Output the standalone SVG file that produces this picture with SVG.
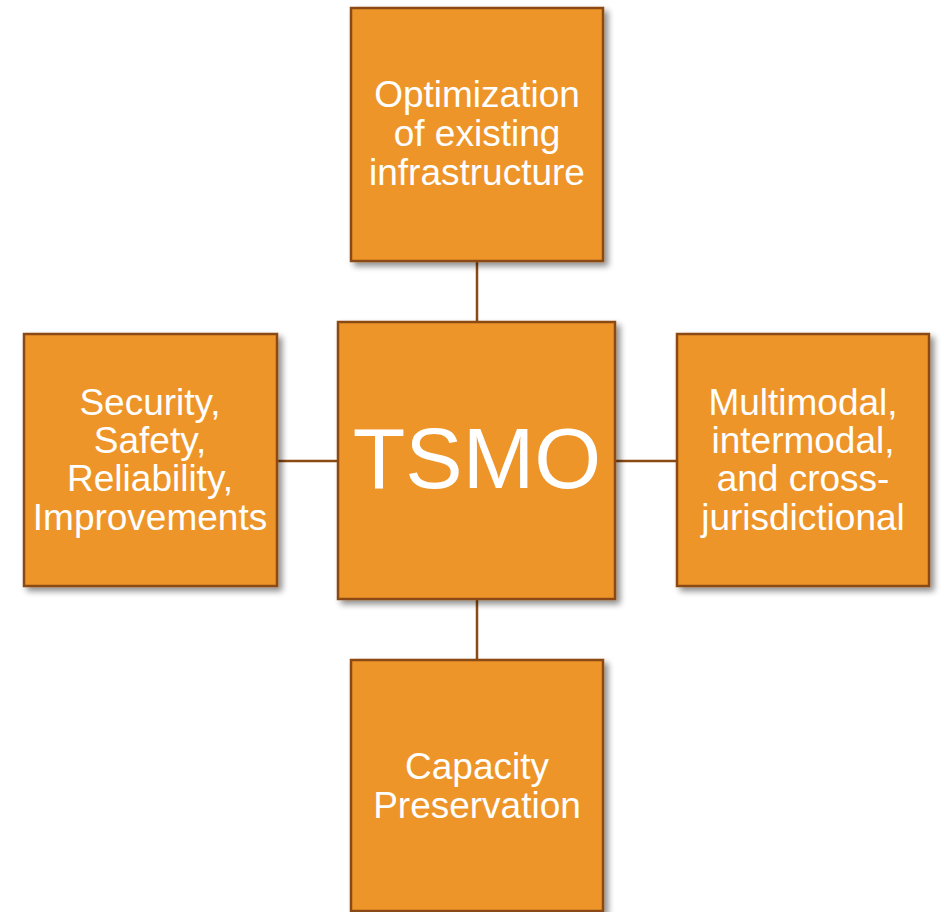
<svg xmlns="http://www.w3.org/2000/svg" width="944" height="912" viewBox="0 0 944 912">
<defs>
<filter id="sh" x="-10%" y="-10%" width="130%" height="130%">
<feGaussianBlur in="SourceAlpha" stdDeviation="3"/>
<feOffset dx="4" dy="4" result="b"/>
<feComponentTransfer><feFuncA type="linear" slope="0.45"/></feComponentTransfer>
<feMerge><feMergeNode/><feMergeNode in="SourceGraphic"/></feMerge>
</filter>
<style>
.box{fill:#EE9529;stroke:#8B4A14;stroke-width:2.5;filter:url(#sh)}
.t{fill:#fff;font-family:"Liberation Sans",Arial,sans-serif;font-size:37px;text-anchor:middle}
.big{fill:#fff;font-family:"Liberation Sans",Arial,sans-serif;font-size:86px;text-anchor:middle}
.c{stroke:#8B4A14;stroke-width:2.5;fill:none}
</style>
</defs>
<rect width="944" height="912" fill="#fff"/>
<g id="connectors">
<line class="c" x1="477" y1="261" x2="477" y2="322"/>
<line class="c" x1="477" y1="599" x2="477" y2="660"/>
<line class="c" x1="277" y1="461" x2="338" y2="461"/>
<line class="c" x1="615" y1="461" x2="677" y2="461"/>
</g>
<g id="top">
<rect class="box" x="351" y="8" width="252" height="253"/>
<text class="t" x="477" y="107">Optimization</text>
<text class="t" x="477" y="146">of existing</text>
<text class="t" x="477" y="185">infrastructure</text>
</g>
<g id="center">
<rect class="box" x="338" y="322" width="277" height="277"/>
<text class="big" x="477" y="488">TSMO</text>
</g>
<g id="left">
<rect class="box" x="24" y="334" width="253" height="252"/>
<text class="t" x="150" y="415">Security,</text>
<text class="t" x="150" y="453">Safety,</text>
<text class="t" x="150" y="491">Reliability,</text>
<text class="t" x="150" y="530">Improvements</text>
</g>
<g id="right">
<rect class="box" x="677" y="334" width="252" height="252"/>
<text class="t" x="803" y="415">Multimodal,</text>
<text class="t" x="803" y="453">intermodal,</text>
<text class="t" x="803" y="491">and cross-</text>
<text class="t" x="803" y="530">jurisdictional</text>
</g>
<g id="bottom">
<rect class="box" x="351" y="660" width="252" height="251"/>
<text class="t" x="477" y="779">Capacity</text>
<text class="t" x="477" y="818">Preservation</text>
</g>
</svg>
